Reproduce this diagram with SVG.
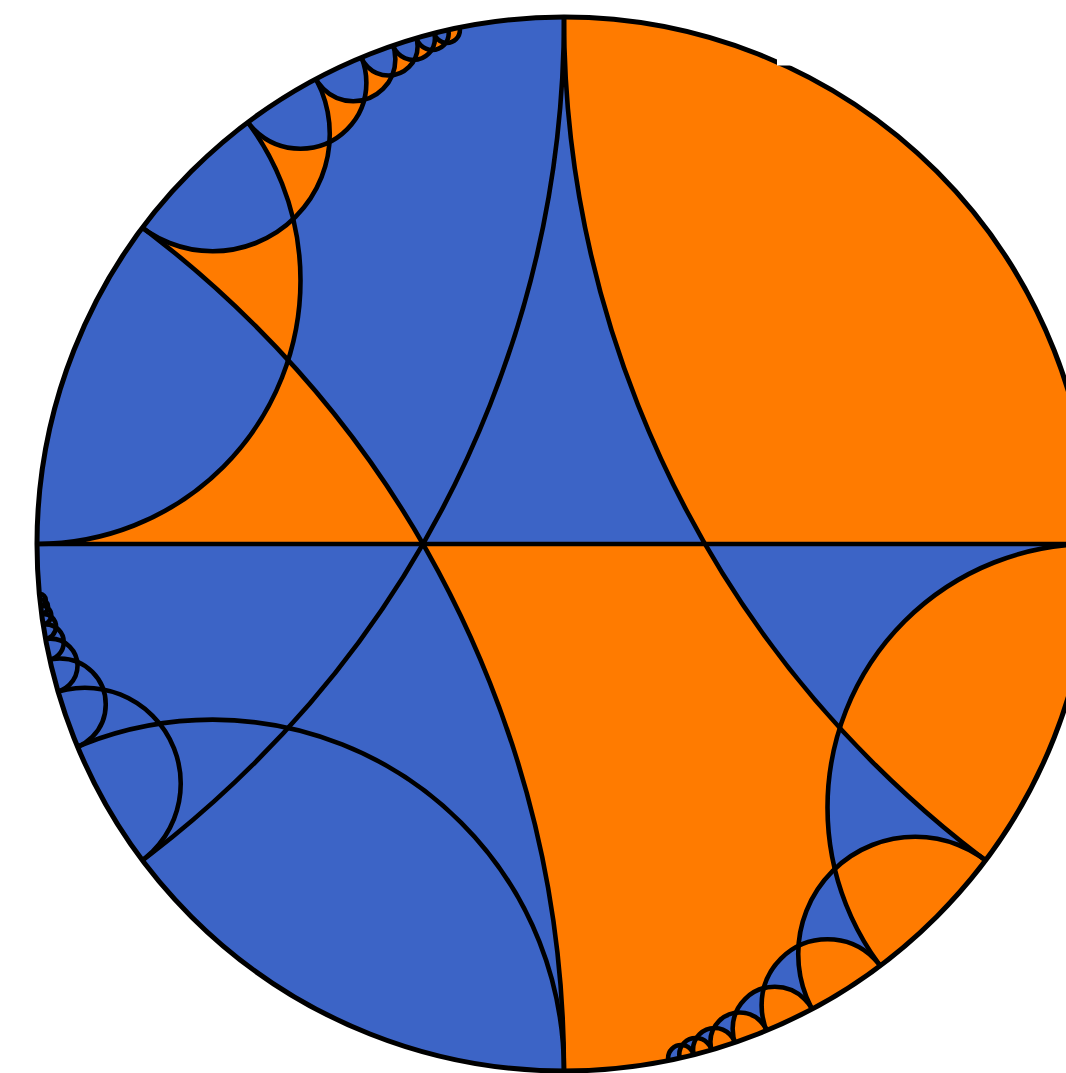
<svg xmlns="http://www.w3.org/2000/svg" width="1066" height="1073" viewBox="0 0 1066 1073">
<defs>
<clipPath id="disk"><circle cx="564" cy="544" r="527"/></clipPath>
<style>
.geo{fill:none;stroke:#000;stroke-width:4.6}
.bd{fill:none;stroke:#000;stroke-width:5}
</style>
</defs>
<rect width="1066" height="1073" fill="#fff"/>
<g id="tiling" clip-path="url(#disk)">
<rect id="blue" x="0" y="0" width="1100" height="1100" fill="#3C64C6"/>
<path id="orange" fill="#FF7B00" fill-rule="evenodd" d="M-10,544H1100V1100H-10Z
M564,17a1054,1054 0 1 0 2108,0a1054,1054 0 1 0 -2108,0Z
M827.5,807.5a263.5,263.5 0 1 0 527,0a263.5,263.5 0 1 0 -527,0Z
M798.22,953.89a117.11,117.11 0 1 0 234.22,0a117.11,117.11 0 1 0 -234.22,0Z
M761.63,1005.13a65.875,65.875 0 1 0 131.75,0a65.875,65.875 0 1 0 -131.75,0Z
M732.64,1028.84a42.16,42.16 0 1 0 84.32,0a42.16,42.16 0 1 0 -84.32,0Z
M710.39,1041.72a29.28,29.28 0 1 0 58.56,0a29.28,29.28 0 1 0 -58.56,0Z
M693.06,1049.49a21.51,21.51 0 1 0 43.02,0a21.51,21.51 0 1 0 -43.02,0Z
M679.28,1054.53a16.47,16.47 0 1 0 32.94,0a16.47,16.47 0 1 0 -32.94,0Z
M668.1,1057.99a13.01,13.01 0 1 0 26.02,0a13.01,13.01 0 1 0 -26.02,0Z
M-1544,1071a1054,1054 0 1 0 2108,0a1054,1054 0 1 0 -2108,0Z
M-226.5,280.5a263.5,263.5 0 1 0 527,0a263.5,263.5 0 1 0 -527,0Z
M95.56,134.11a117.11,117.11 0 1 0 234.22,0a117.11,117.11 0 1 0 -234.22,0Z
M234.63,82.87a65.875,65.875 0 1 0 131.75,0a65.875,65.875 0 1 0 -131.75,0Z
M311.04,59.16a42.16,42.16 0 1 0 84.32,0a42.16,42.16 0 1 0 -84.32,0Z
M359.05,46.28a29.28,29.28 0 1 0 58.56,0a29.28,29.28 0 1 0 -58.56,0Z
M391.92,38.51a21.51,21.51 0 1 0 43.02,0a21.51,21.51 0 1 0 -43.02,0Z
M415.78,33.47a16.47,16.47 0 1 0 32.94,0a16.47,16.47 0 1 0 -32.94,0Z
M433.88,30.01a13.01,13.01 0 1 0 26.02,0a13.01,13.01 0 1 0 -26.02,0Z"/>
<g id="geodesics" class="geo">
<line x1="20" y1="544" x2="1100" y2="544"/>
<circle cx="1618" cy="17" r="1054"/>
<circle cx="1091" cy="807.5" r="263.5"/>
<circle cx="915.33" cy="953.89" r="117.11"/>
<circle cx="827.5" cy="1005.13" r="65.875"/>
<circle cx="774.8" cy="1028.84" r="42.16"/>
<circle cx="739.67" cy="1041.72" r="29.28"/>
<circle cx="714.57" cy="1049.49" r="21.51"/>
<circle cx="695.75" cy="1054.53" r="16.47"/>
<circle cx="681.11" cy="1057.99" r="13.01"/>
<circle cx="-490" cy="1071" r="1054"/>
<circle cx="37" cy="280.5" r="263.5"/>
<circle cx="212.67" cy="134.11" r="117.11"/>
<circle cx="300.5" cy="82.87" r="65.875"/>
<circle cx="353.2" cy="59.16" r="42.16"/>
<circle cx="388.33" cy="46.28" r="29.28"/>
<circle cx="413.43" cy="38.51" r="21.51"/>
<circle cx="432.25" cy="33.47" r="16.47"/>
<circle cx="446.89" cy="30.01" r="13.01"/>
<circle cx="-490" cy="17" r="1054"/>
<circle cx="212.67" cy="1071" r="351.33"/>
<circle cx="84.91" cy="783.55" r="95.82"/>
<circle cx="59.91" cy="704.39" r="45.83"/>
<circle cx="50.51" cy="665.62" r="27.03"/>
<circle cx="45.93" cy="642.25" r="17.86"/>
<circle cx="43.35" cy="626.54" r="12.7"/>
<circle cx="41.75" cy="615.22" r="9.5"/>
<circle cx="40.69" cy="606.65" r="7.37"/>
<circle cx="39.94" cy="599.94" r="5.89"/>
</g>
</g>
<circle id="boundary" class="bd" cx="564" cy="544" r="527"/>
<rect x="777" y="0" width="300" height="65.5" fill="#fff"/>
</svg>
